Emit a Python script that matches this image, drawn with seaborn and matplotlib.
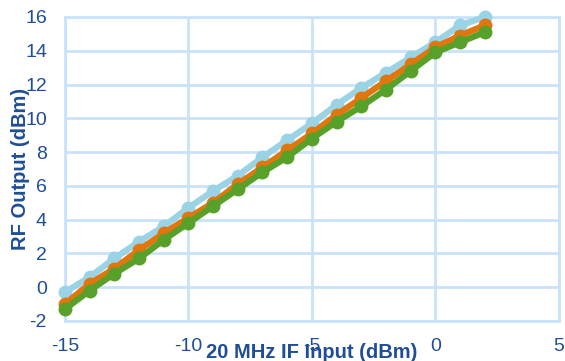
import matplotlib
matplotlib.use("Agg")
import matplotlib.pyplot as plt
import seaborn as sns
import pandas as pd

# IF input sweep (dBm) and RF output for three conditions (dBm)
if_input = [-15, -14, -13, -12, -11, -10, -9, -8, -7, -6, -5, -4, -3, -2, -1, 0, 1, 2]
rf_out_a = [-0.3, 0.6, 1.7, 2.7, 3.6, 4.7, 5.7, 6.6, 7.7, 8.7, 9.7, 10.8, 11.8, 12.7, 13.6, 14.5, 15.5, 16.0]
rf_out_b = [-1.0, 0.2, 1.1, 2.2, 3.2, 4.1, 5.0, 6.1, 7.1, 8.1, 9.1, 10.2, 11.2, 12.2, 13.2, 14.2, 14.9, 15.5]
rf_out_c = [-1.3, -0.2, 0.8, 1.7, 2.8, 3.8, 4.8, 5.8, 6.8, 7.7, 8.8, 9.8, 10.7, 11.7, 12.8, 13.9, 14.5, 15.1]
series_names = ["A", "B", "C"]
series_colors = ["#9AD3E6", "#E2760E", "#57A02A"]

x_ticks = [-15, -10, -5, 0, 5]
y_ticks = [-2, 0, 2, 4, 6, 8, 10, 12, 14, 16]

df = pd.DataFrame({
    "IF": if_input * 3,
    "RF": rf_out_a + rf_out_b + rf_out_c,
    "series": [s for s in series_names for _ in if_input],
})

sns.set_theme(style="white")
plt.rcParams["font.family"] = ["Liberation Sans", "DejaVu Sans"]
plt.rcParams["axes.unicode_minus"] = False

text_color = "#1F4E96"
grid_color = "#C9E2FA"

fig = plt.figure(figsize=(5.65, 3.61), dpi=100)
ax = fig.add_axes([0.115, 0.111, 0.874, 0.842])

sns.lineplot(data=df, x="IF", y="RF", hue="series", hue_order=series_names,
             palette=series_colors, marker="o", markersize=10, markeredgewidth=0,
             linewidth=4.5, legend=False, ax=ax, zorder=3)
for line in ax.lines:
    line.set_clip_on(False)

ax.set_xlim(-15, 5)
ax.set_ylim(-2, 16)
ax.set_xticks(x_ticks)
ax.set_yticks(y_ticks)
ax.grid(True, color=grid_color, linewidth=2)
ax.set_axisbelow(True)
for sp in ax.spines.values():
    sp.set_color(grid_color)
    sp.set_linewidth(2)

ax.tick_params(axis="both", length=0, labelsize=14, labelcolor=text_color)
ax.tick_params(axis="y", pad=13)
ax.tick_params(axis="x", pad=12)

ax.set_xlabel("20 MHz IF Input (dBm)", fontsize=14.5, fontweight="bold", color=text_color)
ax.set_ylabel("RF Output (dBm)", fontsize=14.5, fontweight="bold", color=text_color)
ax.xaxis.set_label_coords(0.5, -0.072)
ax.yaxis.set_label_coords(-0.07, 0.5)

fig.savefig("out.png", dpi=100)
